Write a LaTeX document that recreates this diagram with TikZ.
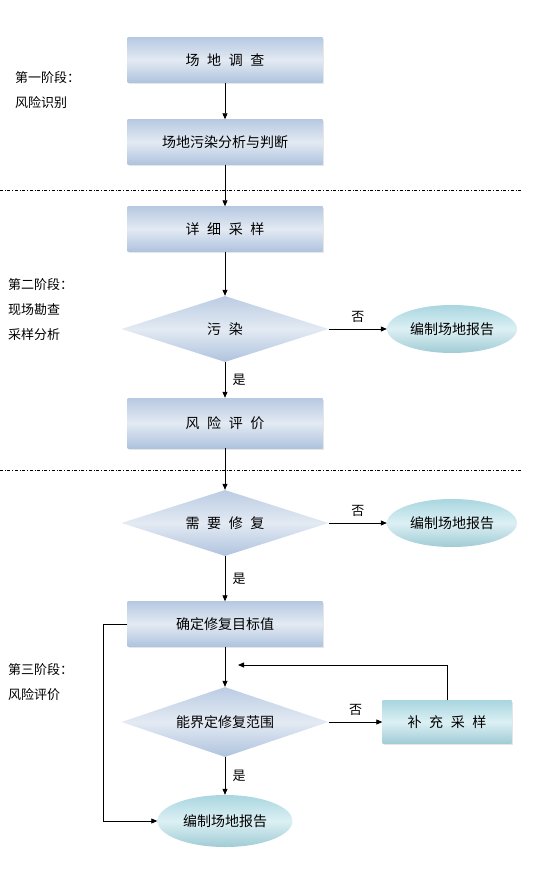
\documentclass[tikz,border=0pt]{standalone}
\usepackage{fontspec}
\setmainfont{Noto Sans CJK SC}[WordSpace=2.4]
\usepackage{xcolor}
\usepackage{tikz}
\usetikzlibrary{arrows.meta,positioning,calc,shapes.geometric,shadows}
\definecolor{boxedge}{HTML}{AFC3DE}
\definecolor{boxmid}{HTML}{E3EAF3}
\definecolor{tealedge}{HTML}{A9D6E0}
\definecolor{tealmid}{HTML}{DCF0F4}

\tikzset{
  stagebox/.style={rectangle,minimum width=195pt,minimum height=45pt,inner sep=0pt,
    top color=boxedge!90,bottom color=boxedge,middle color=boxmid,
    drop shadow={shadow xshift=1pt,shadow yshift=-1.5pt,opacity=0.2},font=\fontsize{14}{16}\selectfont},
  decide/.style={diamond,minimum width=207pt,minimum height=66pt,inner sep=0pt,aspect=3,
    top color=boxedge!85,bottom color=boxedge,middle color=boxmid,font=\fontsize{14}{16}\selectfont},
  report/.style={ellipse,minimum width=130pt,minimum height=48pt,inner sep=0pt,
    top color=tealedge,bottom color=tealedge!95!black,middle color=tealmid,font=\fontsize{14}{16}\selectfont},
  arr/.style={-{Triangle[length=6pt,width=5pt]},line width=0.8pt},
  lab/.style={font=\fontsize{13}{15}\selectfont},
  phase/.style={align=left,anchor=west,inner sep=0pt,font=\fontsize{13}{25}\selectfont}
}

\begin{document}
\begin{tikzpicture}[x=1pt,y=-1pt]
  \useasboundingbox (0,0) rectangle (542,874);
  % phase one
  \node[stagebox] (survey) at (225,60) {场 地 调 查};
  \node[stagebox] (judge) at (225,142) {场地污染分析与判断};
  \node[phase] (ph1) at (15,90) {第一阶段：\\风险识别};
  \draw[dash dot] (0,190) -- (522,190);
  % phase two
  \node[stagebox] (sample) at (225,229) {详 细 采 样};
  \node[decide] (pollute) at (225,329) {污 染};
  \node[report] (rep1) at (452,329) {编制场地报告};
  \node[stagebox,minimum height=50pt] (risk) at (225,423) {风 险 评 价};
  \node[phase] (ph2) at (8,310) {第二阶段：\\现场勘查\\采样分析};
  \draw[dash dot] (0,470) -- (522,470);
  % phase three
  \node[decide] (repair) at (225,523) {需 要 修 复};
  \node[report] (rep2) at (452,523) {编制场地报告};
  \node[stagebox] (target) at (225,624) {确定修复目标值};
  \node[decide,minimum height=70pt] (range) at (225,722) {能界定修复范围};
  \node[stagebox,top color=tealedge,bottom color=tealedge!95!black,middle color=tealmid,
        minimum width=129pt,minimum height=43pt] (extra) at (447,722) {补 充 采 样};
  \node[report,minimum width=135pt,minimum height=52pt] (rep3) at (225,821) {编制场地报告};
  \node[phase] (ph3) at (8,682) {第三阶段：\\风险评价};
  \coordinate (back) at (238,665);
  \coordinate (loop) at (103,624);

  \draw[arr] (survey) -- (judge);
  \draw[arr] (judge) -- (sample);
  \draw[arr] (sample) -- (pollute);
  \draw[arr] (pollute) -- node[lab,above=3pt]{否} (rep1);
  \draw[arr] (pollute) -- node[lab,right=4pt]{是} (risk);
  \draw[arr] (risk) -- (repair);
  \draw[arr] (repair) -- node[lab,above=3pt]{否} (rep2);
  \draw[arr] (repair) -- node[lab,right=4pt]{是} (target);
  \draw[arr] (target) -- (range);
  \draw[arr] (range) -- node[lab,above=3pt]{否} (extra);
  \draw[arr] (extra.north) |- (back);
  \draw[arr] (range) -- node[lab,right=4pt]{是} (rep3);
  \draw[arr] (target.west) -- (loop) |- (rep3.west);
\end{tikzpicture}
\end{document}
